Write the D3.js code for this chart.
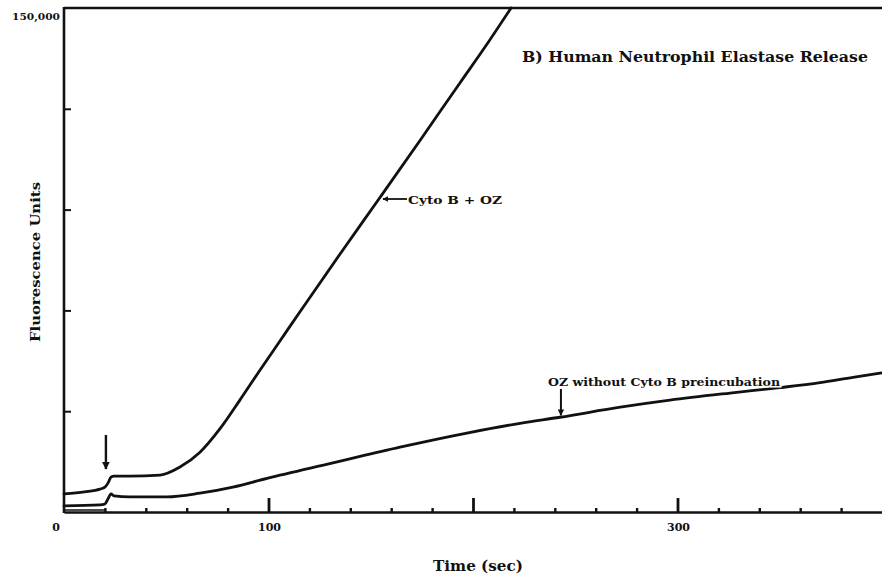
<!DOCTYPE html>
<html>
<head>
<meta charset="utf-8">
<script src="https://cdn.jsdelivr.net/npm/d3@7/dist/d3.min.js"></script>
<style>
  html, body { margin: 0; padding: 0; background: #fff; }
  svg { display: block; }
  text { font-family: "DejaVu Serif", "Liberation Serif", serif; font-weight: bold; fill: #111; }
</style>
</head>
<body>
<svg id="chart" width="882" height="582"></svg>
<script>
// Elastase release traces: time (s) and fluorescence units
const cytoTime  = [0, 10, 17.6, 20, 21.5, 23, 24.4, 32, 47, 56.7, 66.5, 76.3, 86, 95.8, 105.6, 115.4, 135, 154.5, 174, 193.6, 206.8, 218.6];
const cytoValue = [5400, 6000, 6800, 7400, 8600, 10400, 10700, 10700, 11000, 13400, 17800, 24800, 33300, 42200, 50900, 59600, 76800, 93600, 110500, 127700, 139200, 150000];

const ozTime  = [0, 17.6, 20, 21.5, 23, 24.4, 32, 50.4, 66.5, 82.6, 99.3, 131.5, 164.3, 197, 223, 242.5, 272, 296.3, 325.7, 350, 369.7, 385.8, 400];
const ozValue = [1800, 2100, 2400, 3900, 5400, 4800, 4500, 4500, 5600, 7400, 10000, 14600, 19300, 23500, 26400, 28200, 31200, 33300, 35400, 37000, 38500, 40100, 41400];

// Axis ticks and labels
const xMajorTicks = [100, 200, 300];
const xMinorTicks = [20, 40, 60, 80, 120, 140, 160, 180, 220, 240, 260, 280, 320, 340, 360, 380];
const xLabelValues = [0, 100, 300];
const xLabelTexts = ["0", "100", "300"];
const yTicks = [30000, 60000, 90000, 120000];
const yTopLabel = "150,000";

const titleText = "B) Human Neutrophil Elastase Release";
const cytoLabel = "Cyto B + OZ";
const ozLabel = "OZ without Cyto B preincubation";
const xTitle = "Time (sec)";
const yTitle = "Fluorescence Units";

// Arrow markers: addition time and point on the OZ trace
const additionTime = 20.5;
const ozArrowTime = 243;

const svg = d3.select("#chart");
const ink = "#111";

const x = d3.scaleLinear().domain([0, 400]).range([64, 882]);
const y = d3.scaleLinear().domain([0, 150000]).range([512, 8]);

svg.append("defs").append("marker")
  .attr("id", "head")
  .attr("viewBox", "0 0 10 10")
  .attr("refX", 9).attr("refY", 5)
  .attr("markerWidth", 3.2).attr("markerHeight", 3.2)
  .attr("markerUnits", "strokeWidth")
  .attr("orient", "auto")
  .append("path").attr("d", "M0,0 L10,5 L0,10 Z").attr("fill", ink);

// Frame: left axis and top rule
const frame = svg.append("g").attr("stroke", ink).attr("stroke-width", 2.6).attr("fill", "none");
frame.append("line").attr("x1", x(0)).attr("x2", x(0)).attr("y1", y(150000) - 1).attr("y2", y(0) + 1);
frame.append("line").attr("x1", x(0)).attr("x2", x(400)).attr("y1", y(150000)).attr("y2", y(150000));

// X axis with inward ticks
const xAxis = svg.append("g").attr("transform", `translate(0,${y(0)})`)
  .call(d3.axisBottom(x).tickValues(xMajorTicks).tickSizeInner(-14).tickSizeOuter(0).tickFormat(""));
xAxis.select(".domain").attr("stroke", ink).attr("stroke-width", 2.6);
xAxis.selectAll(".tick line").attr("stroke", ink).attr("stroke-width", 2.8);

const xMinor = svg.append("g").attr("transform", `translate(0,${y(0)})`)
  .call(d3.axisBottom(x).tickValues(xMinorTicks).tickSizeInner(-4).tickSizeOuter(0).tickFormat(""));
xMinor.select(".domain").remove();
xMinor.selectAll(".tick line").attr("stroke", ink).attr("stroke-width", 2.4);

svg.append("g").selectAll("text").data(xLabelValues).join("text")
  .attr("x", d => x(d) + (d === 0 ? -8 : 1))
  .attr("y", 531)
  .attr("text-anchor", "middle")
  .attr("font-size", 11)
  .text((d, i) => xLabelTexts[i]);

// Y axis with inward ticks
const yAxis = svg.append("g").attr("transform", `translate(${x(0)},0)`)
  .call(d3.axisLeft(y).tickValues(yTicks).tickSizeInner(-7).tickSizeOuter(0).tickFormat(""));
yAxis.select(".domain").remove();
yAxis.selectAll(".tick line").attr("stroke", ink).attr("stroke-width", 2);

svg.append("text").attr("x", 60).attr("y", 20).attr("text-anchor", "end")
  .attr("font-size", 10).attr("textLength", 48).attr("lengthAdjust", "spacingAndGlyphs")
  .text(yTopLabel);

// Baseline of the trace before addition
svg.append("line").attr("stroke", ink).attr("stroke-width", 1.6)
  .attr("x1", x(0)).attr("x2", x(additionTime)).attr("y1", y(0) - 2).attr("y2", y(0) - 2);

// Traces
const line = d3.line().x(d => x(d[0])).y(d => y(d[1])).curve(d3.curveMonotoneX);
svg.append("path").datum(d3.zip(cytoTime, cytoValue))
  .attr("d", line).attr("fill", "none").attr("stroke", ink).attr("stroke-width", 2.8)
  .attr("stroke-linejoin", "round").attr("stroke-linecap", "round");
svg.append("path").datum(d3.zip(ozTime, ozValue))
  .attr("d", line).attr("fill", "none").attr("stroke", ink).attr("stroke-width", 2.8)
  .attr("stroke-linejoin", "round").attr("stroke-linecap", "round");

// Arrow at time of addition
svg.append("line").attr("stroke", ink).attr("stroke-width", 2.4).attr("marker-end", "url(#head)")
  .attr("x1", x(additionTime)).attr("x2", x(additionTime)).attr("y1", 435).attr("y2", 469);

// Cyto B + OZ label with arrow pointing at the trace
const cytoAt = 154.5;
svg.append("line").attr("stroke", ink).attr("stroke-width", 1.8).attr("marker-end", "url(#head)")
  .attr("x1", 407).attr("x2", x(cytoAt) + 3).attr("y1", 199).attr("y2", 199);
svg.append("text").attr("x", 408).attr("y", 204).attr("font-size", 11)
  .attr("textLength", 94).attr("lengthAdjust", "spacingAndGlyphs").text(cytoLabel);

// OZ label, knocked out over the trace, with arrow down to the trace
svg.append("text").attr("x", 548).attr("y", 386).attr("font-size", 11)
  .attr("textLength", 232).attr("lengthAdjust", "spacingAndGlyphs")
  .attr("stroke", "#fff").attr("stroke-width", 3).attr("paint-order", "stroke")
  .text(ozLabel);
svg.append("line").attr("stroke", ink).attr("stroke-width", 2).attr("marker-end", "url(#head)")
  .attr("x1", x(ozArrowTime)).attr("x2", x(ozArrowTime)).attr("y1", 389).attr("y2", y(28200) - 2);

// Title and axis titles
svg.append("text").attr("x", 522).attr("y", 62).attr("font-size", 15)
  .attr("textLength", 346).attr("lengthAdjust", "spacingAndGlyphs").text(titleText);

svg.append("text").attr("x", 478).attr("y", 571).attr("text-anchor", "middle").attr("font-size", 14)
  .attr("textLength", 90).attr("lengthAdjust", "spacingAndGlyphs").text(xTitle);

svg.append("text").attr("transform", "translate(40,262) rotate(-90)")
  .attr("text-anchor", "middle").attr("font-size", 13)
  .attr("textLength", 160).attr("lengthAdjust", "spacingAndGlyphs").text(yTitle);
</script>
</body>
</html>
